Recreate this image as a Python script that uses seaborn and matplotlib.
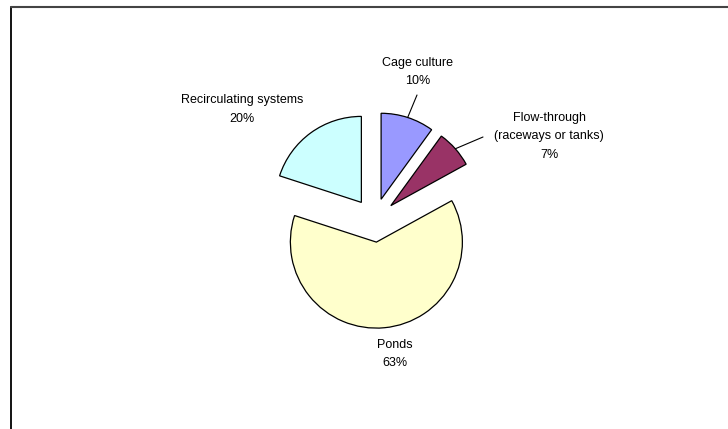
import numpy as np
import matplotlib
matplotlib.use("Agg")
import matplotlib.pyplot as plt
import seaborn as sns
from matplotlib.lines import Line2D

# ---- data ----
categories = ["Cage culture", "Flow-through\n(raceways or tanks)", "Ponds", "Recirculating systems"]
values = [10, 7, 63, 20]
colors = ["#9999FF", "#993366", "#FFFFCC", "#CCFFFF"]

sns.set_theme(style="white")
plt.rcParams["font.family"] = ["Liberation Sans", "DejaVu Sans"]

W, H = 728, 429
fig = plt.figure(figsize=(W / 100, H / 100), dpi=100)
fig.patch.set_facecolor("white")
ax = fig.add_axes([0, 0, 1, 1])
ax.set_xlim(0, W)
ax.set_ylim(0, H)
ax.set_aspect("equal")
ax.axis("off")

# layout
center = (374.3, H - 220.2)
radius = 86
explode_px = 22  # matplotlib explode offset is in data units

wedges, _ = ax.pie(
    values,
    colors=colors,
    startangle=90,
    counterclock=False,
    explode=[explode_px] * len(values),
    radius=radius,
    center=center,
    wedgeprops=dict(edgecolor="black", linewidth=0.9),
    frame=False,
)
ax.set_xlim(0, W)
ax.set_ylim(0, H)

# label layout (screen pixel positions of each label block: first line)
label_pos = [(418, 63), (549, 118), (395, 345), (242, 100)]
line_step = 18.5
fs = 9

for i, (cat, v) in enumerate(zip(categories, values)):
    x, y = label_pos[i]
    lines = cat.split("\n") + [f"{v}%"]
    for k, t in enumerate(lines):
        ax.text(x, H - (y + k * line_step), t, ha="center", va="center",
                fontsize=fs, color="black")

# leader lines from label to wedge outer midpoint
leaders = {0: (417, 95), 1: (483, 137)}
for i, (sx, sy) in leaders.items():
    w = wedges[i]
    mid = np.deg2rad((w.theta1 + w.theta2) / 2)
    cx, cy = w.center
    ex = cx + w.r * np.cos(mid)
    ey = cy + w.r * np.sin(mid)
    ax.plot([sx, ex], [H - sy, ey], color="black", linewidth=0.8)

# outer frame (chart area border, left & top visible)
fig.add_artist(Line2D([10.5 / W, 10.5 / W], [0, 1 - 7 / H], transform=fig.transFigure,
                      color="black", linewidth=1.3))
fig.add_artist(Line2D([10.5 / W, 1], [1 - 7 / H, 1 - 7 / H], transform=fig.transFigure,
                      color="#444444", linewidth=1.5))

fig.savefig("out.png", dpi=100)
